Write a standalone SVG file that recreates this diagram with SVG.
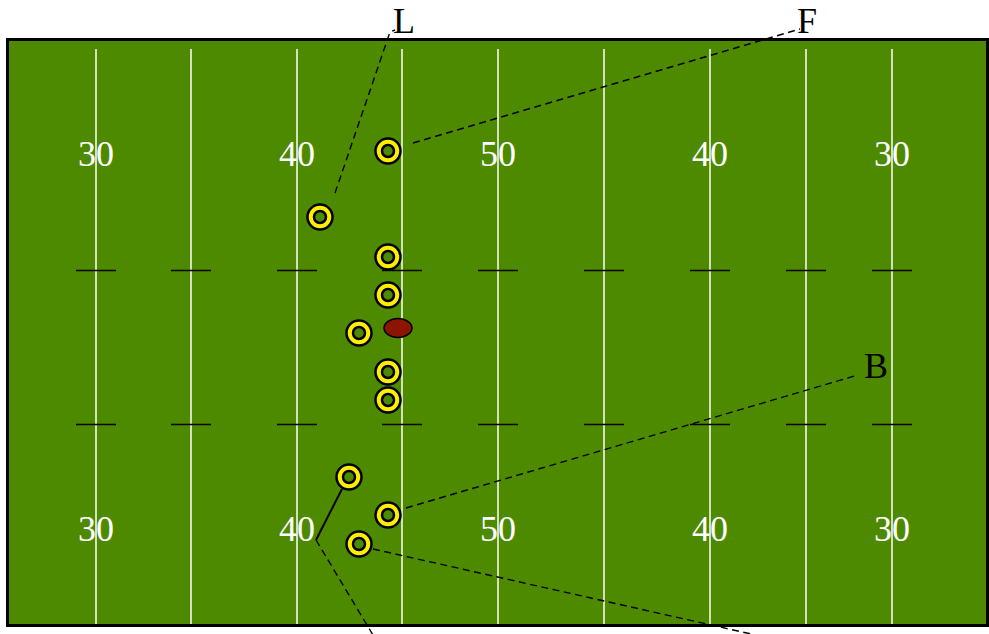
<svg xmlns="http://www.w3.org/2000/svg" width="989" height="634" viewBox="0 0 989 634">
<style>
.yl{stroke:#fff;stroke-width:1.5}
.hash{stroke:#000;stroke-width:1.5}
.num{font-family:"Liberation Serif",serif;font-size:36px;fill:#fff;text-anchor:middle}
.lab{font-family:"Liberation Serif",serif;font-size:36px;fill:#000}
.ring{fill:#ffee00;stroke:#000;stroke-width:2.5}
.hole{fill:#4e8a00;stroke:#000;stroke-width:2.5}
.dash{fill:none;stroke:#000;stroke-width:1.4;stroke-dasharray:7,4.5}
</style>
<defs>
<g id="pl"><circle r="12.5" class="ring"/><circle r="6" class="hole"/></g>
</defs>
<rect x="0" y="0" width="989" height="634" fill="#fff"/>
<g id="field">
<rect x="7.5" y="39.5" width="980" height="586" fill="#4e8a00" stroke="#000" stroke-width="3"/>
<g>
<line class="yl" x1="96" y1="49" x2="96" y2="624"/>
<line class="yl" x1="191" y1="49" x2="191" y2="624"/>
<line class="yl" x1="297" y1="49" x2="297" y2="624"/>
<line class="yl" x1="402" y1="49" x2="402" y2="624"/>
<line class="yl" x1="498" y1="49" x2="498" y2="624"/>
<line class="yl" x1="604" y1="49" x2="604" y2="624"/>
<line class="yl" x1="710" y1="49" x2="710" y2="624"/>
<line class="yl" x1="806" y1="49" x2="806" y2="624"/>
<line class="yl" x1="892" y1="49" x2="892" y2="624"/>
</g>
<g>
<line class="hash" x1="76" y1="270.5" x2="116" y2="270.5"/>
<line class="hash" x1="171" y1="270.5" x2="211" y2="270.5"/>
<line class="hash" x1="277" y1="270.5" x2="317" y2="270.5"/>
<line class="hash" x1="382" y1="270.5" x2="422" y2="270.5"/>
<line class="hash" x1="478" y1="270.5" x2="518" y2="270.5"/>
<line class="hash" x1="584" y1="270.5" x2="624" y2="270.5"/>
<line class="hash" x1="690" y1="270.5" x2="730" y2="270.5"/>
<line class="hash" x1="786" y1="270.5" x2="826" y2="270.5"/>
<line class="hash" x1="872" y1="270.5" x2="912" y2="270.5"/>
<line class="hash" x1="76" y1="424.5" x2="116" y2="424.5"/>
<line class="hash" x1="171" y1="424.5" x2="211" y2="424.5"/>
<line class="hash" x1="277" y1="424.5" x2="317" y2="424.5"/>
<line class="hash" x1="382" y1="424.5" x2="422" y2="424.5"/>
<line class="hash" x1="478" y1="424.5" x2="518" y2="424.5"/>
<line class="hash" x1="584" y1="424.5" x2="624" y2="424.5"/>
<line class="hash" x1="690" y1="424.5" x2="730" y2="424.5"/>
<line class="hash" x1="786" y1="424.5" x2="826" y2="424.5"/>
<line class="hash" x1="872" y1="424.5" x2="912" y2="424.5"/>
</g>
<g>
<text class="num" x="96" y="166">30</text>
<text class="num" x="297" y="166">40</text>
<text class="num" x="498" y="166">50</text>
<text class="num" x="710" y="166">40</text>
<text class="num" x="892" y="166">30</text>
<text class="num" x="96" y="541">30</text>
<text class="num" x="297" y="541">40</text>
<text class="num" x="498" y="541">50</text>
<text class="num" x="710" y="541">40</text>
<text class="num" x="892" y="541">30</text>
</g>
</g>
<g id="connectors">
<path class="dash" d="M335,193 L390,32 L395,30"/>
<path class="dash" d="M413,143 L800,29"/>
<path class="dash" d="M406,508 L858,375"/>
<path d="M342,489 L316,540" fill="none" stroke="#000" stroke-width="2"/>
<path class="dash" d="M316,540 L382,650"/>
<path class="dash" d="M373,549 L760,636"/>
</g>
<g id="labels">
<text class="lab" x="393" y="33">L</text>
<text class="lab" x="797" y="33">F</text>
<text class="lab" x="864" y="378">B</text>
</g>
<g id="players">
<use href="#pl" x="388" y="151"/>
<use href="#pl" x="320" y="217"/>
<use href="#pl" x="388" y="257"/>
<use href="#pl" x="388" y="295"/>
<use href="#pl" x="359" y="333"/>
<use href="#pl" x="388" y="372"/>
<use href="#pl" x="388" y="400"/>
<use href="#pl" x="349" y="477"/>
<use href="#pl" x="388" y="515"/>
<use href="#pl" x="359" y="544"/>
</g>
<g id="ball">
<ellipse cx="398" cy="328" rx="14" ry="9.5" fill="#8b1500" stroke="#000" stroke-width="1.5"/>
</g>
</svg>
